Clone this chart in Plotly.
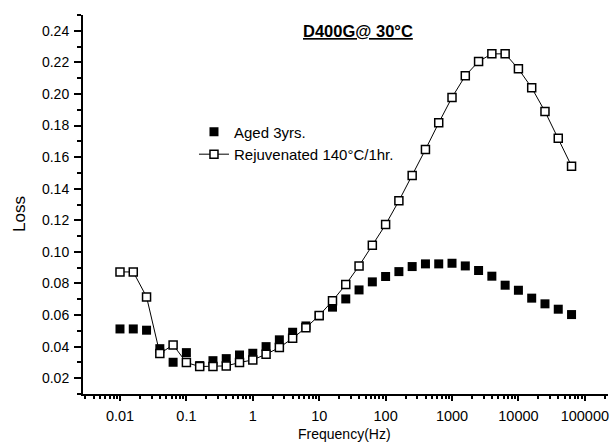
import plotly.graph_objects as go

# Frequencies: 5 points per decade, 0.01 Hz to ~63 kHz
freq = [0.01, 0.01585, 0.02512, 0.03981, 0.0631, 0.1, 0.1585, 0.2512, 0.3981, 0.631,
        1, 1.585, 2.512, 3.981, 6.31, 10, 15.85, 25.12, 39.81, 63.1,
        100, 158.5, 251.2, 398.1, 631, 1000, 1585, 2512, 3981, 6310,
        10000, 15850, 25120, 39810, 63100]

aged = [0.0512, 0.0512, 0.0504, 0.0387, 0.0301, 0.0362, 0.0280, 0.0311, 0.0324, 0.0347,
        0.0358, 0.0400, 0.0443, 0.0491, 0.0531, 0.0595, 0.0650, 0.0702, 0.0759, 0.0810,
        0.0844, 0.0875, 0.0907, 0.0924, 0.0924, 0.0928, 0.0911, 0.0882, 0.0846, 0.0789,
        0.0757, 0.0707, 0.0671, 0.0637, 0.0603]

rejuv = [0.0873, 0.0873, 0.0715, 0.0356, 0.0411, 0.0299, 0.0274, 0.0274, 0.0278, 0.0299,
         0.0316, 0.0352, 0.0394, 0.0453, 0.0520, 0.0597, 0.0690, 0.0793, 0.0911, 0.1042,
         0.1173, 0.1323, 0.1483, 0.1648, 0.1817, 0.1978, 0.2115, 0.2206, 0.2254, 0.2254,
         0.2159, 0.2039, 0.1889, 0.1720, 0.1543]

x_tickvals = [0.01, 0.1, 1, 10, 100, 1000, 10000, 100000]
x_ticktext = ["0.01", "0.1", "1", "10", "100", "1000", "10000", "100000"]
x_minor = [m * 10.0 ** e for e in range(-3, 6) for m in range(2, 10)]

FONT = "Liberation Sans, Arial, sans-serif"

fig = go.Figure()
fig.add_trace(go.Scatter(
    x=freq, y=aged, mode="markers", name="Aged 3yrs.",
    marker=dict(symbol="square", size=9, color="black", line=dict(width=0)),
))
fig.add_trace(go.Scatter(
    x=freq, y=rejuv, mode="lines+markers", name="Rejuvenated 140°C/1hr.",
    line=dict(color="black", width=1),
    marker=dict(symbol="square", size=8, color="white", line=dict(color="black", width=1.5)),
))

fig.update_layout(
    width=610, height=447,
    margin=dict(l=83, r=2, t=15, b=53),
    paper_bgcolor="white", plot_bgcolor="white",
    font=dict(family=FONT, size=14, color="black"),
    showlegend=True,
    legend=dict(x=0.2114, y=0.735, xanchor="left", yanchor="top",
                bgcolor="rgba(0,0,0,0)", font=dict(size=15), tracegroupgap=0),
    annotations=[
        dict(text="<u><b>D400G@ 30°C</b></u>", x=(358 - 83) / 525, y=(394 - 31) / 379,
             xref="paper", yref="paper", showarrow=False, font=dict(size=16.5),
             xanchor="center", yanchor="middle"),
        dict(text="Loss", x=(19 - 83) / 525, y=(394 - 214) / 379, xref="paper", yref="paper",
             showarrow=False, textangle=-90, font=dict(size=17),
             xanchor="center", yanchor="middle"),
        dict(text="Frequency(Hz)", x=(344 - 83) / 525, y=(394 - 434) / 379,
             xref="paper", yref="paper", showarrow=False, font=dict(size=14),
             xanchor="center", yanchor="middle"),
    ],
)

fig.update_xaxes(
    type="log", range=[-2.557, 5.349],
    tickmode="array", tickvals=x_tickvals, ticktext=x_ticktext,
    ticks="outside", ticklen=5, tickwidth=1.5, tickcolor="black",
    ticklabelstandoff=3,
    showline=True, linewidth=2, linecolor="black", mirror=False,
    showgrid=False, zeroline=False,
    minor=dict(tickmode="array", tickvals=x_minor, ticks="outside", ticklen=3,
               tickcolor="black", showgrid=False),
    tickfont=dict(size=14.5),
)
fig.update_yaxes(
    range=[0.01, 0.25], dtick=0.02, tick0=0, tickformat=".2f",
    ticks="outside", ticklen=7, tickwidth=1.5, tickcolor="black",
    ticklabelstandoff=2,
    showline=True, linewidth=2, linecolor="black", mirror=False,
    showgrid=False, zeroline=False,
    minor=dict(dtick=0.01, ticks="outside", ticklen=4, tickcolor="black", showgrid=False),
    tickfont=dict(size=14),
)

fig.write_html("out.html")
